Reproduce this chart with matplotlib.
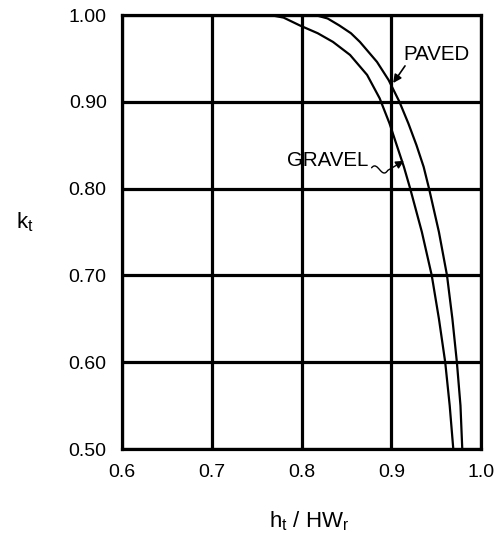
import matplotlib
matplotlib.use('Agg')
import matplotlib.pyplot as plt
from matplotlib.path import Path
from matplotlib.patches import FancyArrowPatch

plt.rcParams['font.family'] = ['Liberation Sans', 'DejaVu Sans']

# values
gravel_x = [0.765, 0.780, 0.798, 0.818, 0.835, 0.854, 0.873, 0.887, 0.898, 0.906, 0.914,
            0.921, 0.934, 0.945, 0.953, 0.960, 0.965, 0.969]
gravel_y = [1.000, 0.997, 0.988, 0.979, 0.969, 0.954, 0.931, 0.904, 0.875, 0.850, 0.825,
            0.800, 0.750, 0.700, 0.650, 0.600, 0.550, 0.500]

paved_x = [0.815, 0.829, 0.842, 0.855, 0.865, 0.884, 0.897, 0.909, 0.919, 0.928, 0.936,
           0.942, 0.953, 0.962, 0.968, 0.973, 0.977, 0.979]
paved_y = [1.000, 0.996, 0.988, 0.979, 0.969, 0.946, 0.925, 0.900, 0.875, 0.850, 0.825,
           0.800, 0.750, 0.700, 0.650, 0.600, 0.550, 0.500]

x_ticks = [0.6, 0.7, 0.8, 0.9, 1.0]
x_labels = ['0.6', '0.7', '0.8', '0.9', '1.0']
y_ticks = [0.5, 0.6, 0.7, 0.8, 0.9, 1.0]
y_labels = ['0.50', '0.60', '0.70', '0.80', '0.90', '1.00']

fig = plt.figure(figsize=(4.96, 5.36), dpi=100)
ax = fig.add_axes([0.246, 0.1623, 0.724, 0.8097])

ax.plot(gravel_x, gravel_y, color='k', lw=1.6, zorder=3, solid_joinstyle='round')
ax.plot(paved_x, paved_y, color='k', lw=1.6, zorder=3, solid_joinstyle='round')

ax.set_xlim(0.6, 1.0)
ax.set_ylim(0.5, 1.0)
ax.set_xticks(x_ticks)
ax.set_xticklabels(x_labels)
ax.set_yticks(y_ticks)
ax.set_yticklabels(y_labels)
ax.tick_params(length=0, pad=11, labelsize=14)
ax.grid(color='k', lw=2.3)
for s in ax.spines.values():
    s.set_linewidth(2.3)

# curve labels
ax.text(0.950, 0.955, 'PAVED', fontsize=14.8, ha='center', va='center')
ax.annotate('', xy=(0.9003, 0.919), xytext=(0.917, 0.944),
            arrowprops=dict(arrowstyle='-|>', color='k', lw=1.2, mutation_scale=12))
ax.text(0.829, 0.832, 'GRAVEL', fontsize=14.8, ha='center', va='center')

# little squiggle leading to the gravel curve
squig = Path([(0.878, 0.824), (0.885, 0.833), (0.889, 0.810), (0.896, 0.821), (0.914, 0.832)],
             [Path.MOVETO, Path.CURVE4, Path.CURVE4, Path.CURVE4, Path.LINETO])
ax.add_patch(FancyArrowPatch(path=squig, arrowstyle='-|>', color='k', lw=1.0,
                             mutation_scale=12, zorder=4))

fig.text(25 / 496, 1 - 222 / 536, 'k$_\\mathregular{t}$', fontsize=16, ha='center', va='center')
fig.text(309 / 496, 1 - 521 / 536, 'h$_\\mathregular{t}$ / HW$_\\mathregular{r}$', fontsize=16,
         ha='center', va='center')

fig.savefig('out.png', dpi=100)
